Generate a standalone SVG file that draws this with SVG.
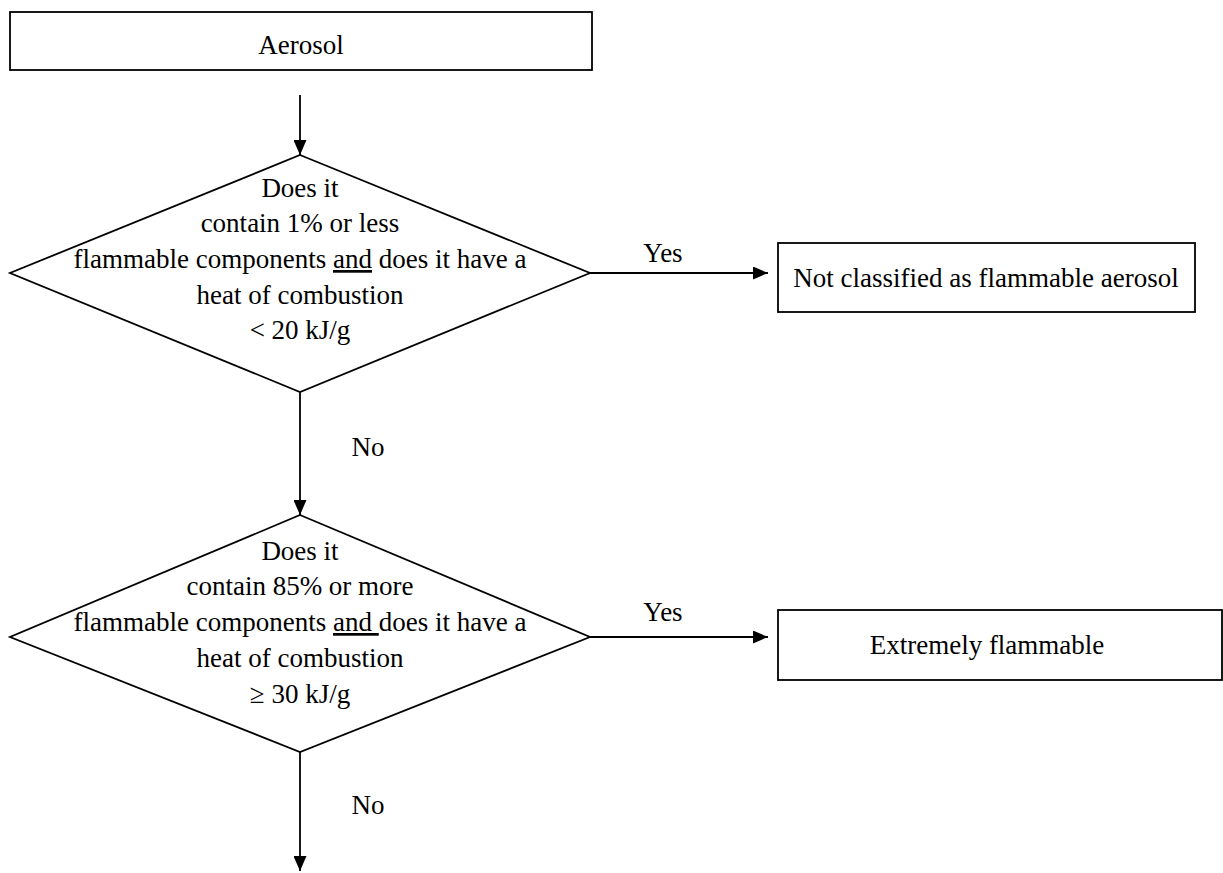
<svg xmlns="http://www.w3.org/2000/svg" width="1223" height="873" viewBox="0 0 1223 873">
<defs>
<marker id="ah" viewBox="0 0 15 13" refX="15" refY="6.5" markerWidth="15" markerHeight="13" markerUnits="userSpaceOnUse" orient="auto">
<path d="M0,0 L15,6.5 L0,13 Z" fill="#000"/>
</marker>
<style>
.shape{fill:#fff;stroke:#000;stroke-width:1.8}
.conn{fill:none;stroke:#000;stroke-width:1.8;marker-end:url(#ah)}
text{font-family:"Liberation Serif","Times New Roman",serif;font-size:27px;fill:#000}
.c{text-anchor:middle}
</style>
</defs>
<rect width="1223" height="873" fill="#fff"/>
<g id="connectors">
<line class="conn" x1="300" y1="95" x2="300" y2="155"/>
<line class="conn" x1="590" y1="273" x2="768" y2="273"/>
<line class="conn" x1="300" y1="392" x2="300" y2="515"/>
<line class="conn" x1="590" y1="637" x2="768" y2="637"/>
<line class="conn" x1="300" y1="752" x2="300" y2="871"/>
<text x="663" y="262" class="c">Yes</text>
<text x="663" y="621" class="c">Yes</text>
<text x="368" y="456" class="c">No</text>
<text x="368" y="814" class="c">No</text>
</g>
<g id="aerosol">
<rect class="shape" x="10" y="12" width="582" height="58"/>
<text x="301" y="54" class="c">Aerosol</text>
</g>
<g id="decision1">
<polygon class="shape" points="300,155 590,273 300,392 10,273"/>
<text class="c"><tspan x="300" y="197">Does it</tspan><tspan x="300" y="232">contain 1% or less</tspan><tspan x="300" y="268">flammable components <tspan text-decoration="underline">and</tspan> does it have a</tspan><tspan x="300" y="304">heat of combustion</tspan><tspan x="300" y="339">&lt; 20 kJ/g</tspan></text>
</g>
<g id="not-classified">
<rect class="shape" x="778" y="243" width="417" height="69"/>
<text x="986" y="287" class="c">Not classified as flammable aerosol</text>
</g>
<g id="decision2">
<polygon class="shape" points="300,515 590,637 300,752 10,637"/>
<text class="c"><tspan x="300" y="560">Does it</tspan><tspan x="300" y="595">contain 85% or more</tspan><tspan x="300" y="631">flammable components <tspan text-decoration="underline">and </tspan>does it have a</tspan><tspan x="300" y="667">heat of combustion</tspan><tspan x="300" y="703">≥ 30 kJ/g</tspan></text>
</g>
<g id="extremely">
<rect class="shape" x="778" y="610" width="444" height="70"/>
<text x="987" y="654" class="c">Extremely flammable</text>
</g>
</svg>
